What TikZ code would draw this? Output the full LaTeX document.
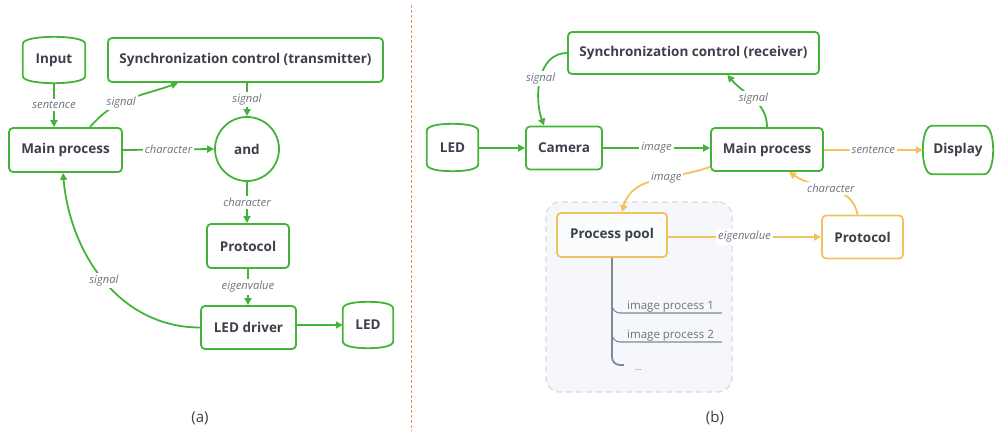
\documentclass[tikz,border=0pt]{standalone}
\usepackage{fontspec}
\setmainfont{Open Sans}
\usetikzlibrary{arrows.meta,calc}
\definecolor{gr}{RGB}{68,180,56}
\definecolor{og}{RGB}{240,195,95}
\definecolor{tx}{RGB}{60,64,74}
\definecolor{lb}{RGB}{110,114,124}
\definecolor{dv}{RGB}{228,145,95}
\definecolor{pbg}{RGB}{245,247,250}
\definecolor{pbd}{RGB}{214,219,228}
\definecolor{tr}{RGB}{128,137,156}
\newcommand\tapeshape[2]{%
 \draw[draw=#2, line width=1.8pt] ($(#1.north west)+(0,-7)$) -- ($(#1.south west)+(0,7)$)
   .. controls +(0,-5) and +(-14,0) .. (#1.south) .. controls +(14,0) and +(0,-5) .. ($(#1.south east)+(0,7)$)
   -- ($(#1.north east)+(0,-7)$) .. controls +(0,5) and +(14,0) .. (#1.north) .. controls +(-14,0) and +(0,5) .. cycle;}
\newcommand\dispshape[2]{%
 \draw[draw=#2, line width=1.8pt] ($(#1.north west)+(9,0)$) -- ($(#1.north east)+(-9,0)$)
   .. controls +(6,0) and +(0,12) .. (#1.east) .. controls +(0,-12) and +(6,0) .. ($(#1.south east)+(-9,0)$)
   -- ($(#1.south west)+(9,0)$) .. controls +(-6,0) and +(0,-12) .. (#1.west) .. controls +(0,12) and +(-6,0) .. cycle;}
\begin{document}
\begin{tikzpicture}[x=1pt,y=1pt,
 box/.style={draw=gr, line width=1.8pt, rounded corners=4pt, fill=white, text=tx,
   font=\bfseries\fontsize{13.5}{15}\selectfont, inner sep=0pt},
 obox/.style={box, draw=og},
 ghost/.style={draw=none, text=tx, font=\bfseries\fontsize{13.5}{15}\selectfont, inner sep=0pt},
 garrow/.style={draw=gr, line width=1.8pt, -{Triangle[length=7pt,width=7pt]}},
 oarrow/.style={garrow, draw=og},
 lbl/.style={fill=white, text=lb, font=\itshape\fontsize{11.2}{13}\selectfont, inner sep=2pt},
 subtxt/.style={text=lb, font=\fontsize{11.5}{13}\selectfont, inner sep=0pt, anchor=base west},
 captxt/.style={text=tx, font=\fontsize{15}{17}\selectfont, inner sep=0pt},
]
\useasboundingbox (0,0) rectangle (995,-431);

% divider
\draw[dv, line width=1pt, dash pattern=on 3pt off 2pt] (411,-5) -- (411,-431);

% ---------------- (a) ----------------
\node[ghost, minimum width=62pt, minimum height=46pt] (inA) at (54,-60) {Input};
\tapeshape{inA}{gr}
\node[box, minimum width=275pt, minimum height=44pt] (syncT) at (245.5,-60) {Synchronization control (transmitter)};
\node[box, minimum width=113pt, minimum height=44pt] (mainA) at (65.5,-150) {Main process};
\node[box, circle, minimum size=64pt] (andN) at (247,-149) {and};
\node[box, minimum width=82pt, minimum height=44pt] (protoA) at (248,-246) {Protocol};
\node[box, minimum width=95pt, minimum height=43pt] (drv) at (248.5,-327.5) {LED driver};
\node[ghost, minimum width=50pt, minimum height=46pt] (ledA) at (368,-325) {LED};
\tapeshape{ledA}{gr}
\node[captxt] (capA) at (200,-418) {(a)};

\draw[garrow] (inA.south) -- (inA.south |- mainA.north) node[lbl, midway] {sentence};
\draw[garrow] ([xshift=24.5]mainA.north) to[out=50,in=200] node[lbl, pos=0.4] {signal} ([xshift=-67.5]syncT.south);
\draw[garrow] (andN.north |- syncT.south) -- (andN.north) node[lbl, midway] {signal};
\draw[garrow] (mainA.east) -- (andN.west) node[lbl, midway] {character};
\draw[garrow] (andN.south) -- (andN.south |- protoA.north) node[lbl, midway] {character};
\draw[garrow] (protoA.south) -- (protoA.south |- drv.north) node[lbl, midway] {eigenvalue};
\draw[garrow] (drv.east |- ledA.west) -- (ledA.west);
\draw[garrow] (drv.west) to[out=180,in=-85] node[lbl, pos=0.5] {signal} ([xshift=-2.5]mainA.south);

% ---------------- (b) ----------------
\node[draw=pbd, fill=pbg, line width=1.2pt, dash pattern=on 6pt off 4pt, rounded corners=14pt,
  minimum width=186pt, minimum height=190pt, inner sep=0pt] (pool) at (639,-297) {};
\node[box, minimum width=251pt, minimum height=42pt] (syncR) at (693.5,-53) {Synchronization control (receiver)};
\node[ghost, minimum width=51pt, minimum height=47pt] (ledB) at (452.5,-147.5) {LED};
\tapeshape{ledB}{gr}
\node[box, minimum width=76pt, minimum height=43pt] (cam) at (564,-148) {Camera};
\node[box, minimum width=112pt, minimum height=43pt] (mainB) at (767,-149.5) {Main process};
\node[ghost, minimum width=70pt, minimum height=48pt] (disp) at (958,-150) {Display};
\dispshape{disp}{gr}
\node[obox, fill=pbg!40!white, minimum width=110pt, minimum height=44pt] (poolN) at (612,-235) {Process pool};
\node[obox, minimum width=81pt, minimum height=43pt] (protoB) at (862.5,-237) {Protocol};
\node[captxt] (capB) at (715,-418) {(b)};

\draw[garrow] (ledB.east |- cam.west) -- (cam.west);
\draw[garrow] (cam.east) -- (cam.east -| mainB.west) node[lbl, midway] {image};
\draw[garrow] (syncR.west) to[out=180,in=110] node[lbl, pos=0.5] {signal} ([xshift=-20]cam.north);
\draw[garrow] (mainB.north) to[out=90,in=-50] node[lbl, pos=0.5] {signal} ([xshift=-92.5]syncR.south east);
\draw[oarrow] (mainB.east |- disp.west) -- (disp.west) node[lbl, midway] {sentence};
\draw[oarrow] ([yshift=5]mainB.south west) to[out=200,in=75] node[lbl, pos=0.4] {image} ([xshift=10]poolN.north);
\draw[oarrow] ([xshift=-5]protoB.north) to[out=100,in=-35] node[lbl, pos=0.5] {character} ([xshift=22]mainB.south);
\draw[oarrow] (poolN.east |- protoB.west) -- (protoB.west) node[lbl, midway] {eigenvalue};

% tree
\coordinate (tEnd) at (624,-365);
\draw[tr, line width=1.8pt] (poolN.south) -- (612,-357) to[out=-90,in=180] (620,-365) -- (tEnd);
\draw[tr, line width=1.1pt] (612,-305) to[out=-90,in=180] (620,-313) -- (722,-313);
\draw[tr, line width=1.1pt] (612,-334) to[out=-90,in=180] (620,-342) -- (722,-342);
\node[subtxt] (ip1) at (627,-309.5) {image process 1};
\node[subtxt] (ip2) at (627,-338) {image process 2};
\node[subtxt, font=\fontsize{8}{10}\selectfont] (ipd) at (635,-370) {...};
\end{tikzpicture}
\end{document}
